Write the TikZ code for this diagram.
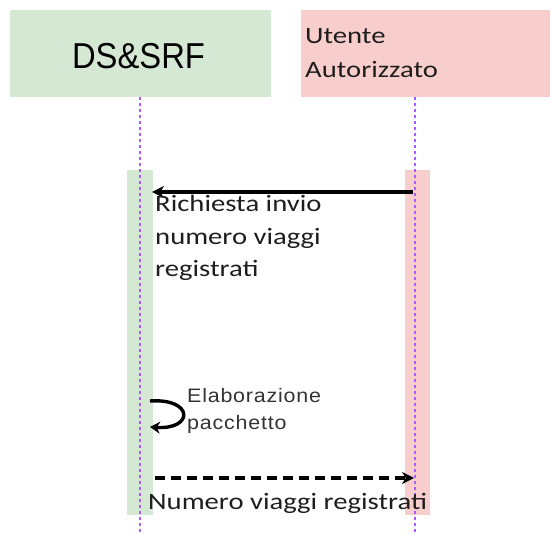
\documentclass[tikz,border=0pt]{standalone}
\usepackage{fontspec}
\usetikzlibrary{arrows.meta}
\newfontfamily\calib[FakeStretch=1.22]{Carlito}
\newfontfamily\headfont[FakeStretch=0.91]{Liberation Sans}
\newfontfamily\notefont[FakeStretch=1.1,LetterSpace=4]{Liberation Sans}
\definecolor{hgreen}{HTML}{D5E8D4}
\definecolor{hred}{HTML}{F8CECC}
\definecolor{lifec}{RGB}{170,90,255}
\definecolor{txt}{HTML}{1E1E1E}
\definecolor{notec}{HTML}{333333}
\tikzset{
  headbox/.style={draw=none, inner sep=0, anchor=north west},
  actbar/.style={draw=none, inner sep=0, anchor=north, minimum height=345pt},
  lifeline/.style={lifec, line width=1.2pt, dash pattern=on 3pt off 3pt},
  msg/.style={black, line width=3.4pt, -{Stealth[length=12pt,width=12pt]}},
  reply/.style={black, line width=3.4pt, dash pattern=on 10pt off 6pt, -{Stealth[length=12pt,width=12pt]}},
  msgtext/.style={inner sep=0, anchor=base west, align=left, text=txt, font=\calib\fontsize{23.5}{32.5}\selectfont},
}
\begin{document}
\begin{tikzpicture}[x=1pt,y=-1pt]
\useasboundingbox (0,0) rectangle (550,534);
% headers
\node[headbox, fill=hgreen, minimum width=261pt, minimum height=87.5pt] (hds) at (10,9.5) {};
\node[headbox, fill=hred, minimum width=249pt, minimum height=87.5pt] (hut) at (301,9.5) {};
\node[inner sep=0, anchor=base, text=black, font=\headfont\fontsize{36}{40}\selectfont] (tds) at (138.5,69) {DS\&SRF};
\node[msgtext, font=\calib\fontsize{23.5}{34}\selectfont] (tut) at (305,78) {Utente\\Autorizzato};
% activation bars
\node[actbar, fill=hgreen, minimum width=26pt] (bds) at (140,170) {};
\node[actbar, fill=hred, minimum width=25pt] (but) at (417.5,170) {};
% lifelines
\coordinate (lds0) at (140,97);
\coordinate (lds1) at (140,534);
\coordinate (lut0) at (415,97);
\coordinate (lut1) at (415,534);
\draw[lifeline] (lds0) -- (lds1);
\draw[lifeline] (lut0) -- (lut1);
% message 1
\coordinate (m1s) at (413,192);
\coordinate (m1e) at (152,192);
\draw[msg] (m1s) -- (m1e);
\node[msgtext] (t1) at (155,277) {Richiesta invio\\numero viaggi\\registrati};
% self message
\coordinate (s1) at (150,401);
\coordinate (s2) at (150,427);
\draw[msg, -{Stealth[length=10pt,width=12pt]}] (s1) .. controls (194,398) and (194,430) .. (s2);
\node[inner sep=0, anchor=base west, align=left, text=notec, font=\notefont\fontsize{19.5}{27}\selectfont] (t2) at (187,430) {Elaborazione\\pacchetto};
% reply
\coordinate (r1s) at (155,478);
\coordinate (r1e) at (414,478);
\draw[reply] (r1s) -- (r1e);
\node[msgtext] (t3) at (148,510) {Numero viaggi registrati};
\end{tikzpicture}
\end{document}
